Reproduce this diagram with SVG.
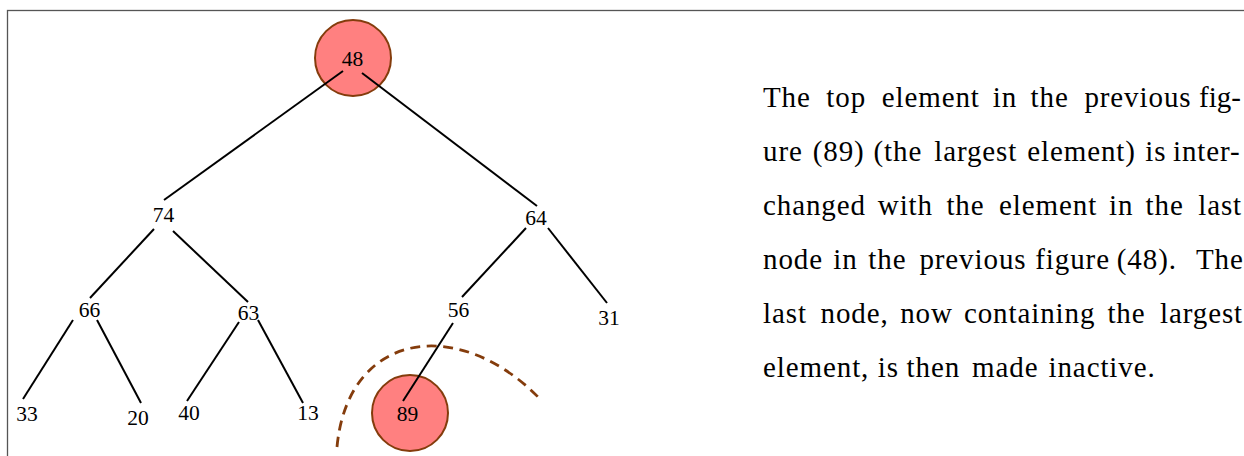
<svg xmlns="http://www.w3.org/2000/svg" width="1244" height="456" viewBox="0 0 1244 456">
<style>
.lbl{font-family:"Liberation Serif","Times New Roman",serif;font-size:21.5px;fill:#000;text-anchor:middle}
.hot{fill:#FF8080;stroke:#843C0C;stroke-width:2}
.edge{stroke:#000;stroke-width:2;fill:none;stroke-linecap:butt}
.cut{stroke:#843C0C;stroke-width:2.8;fill:none;stroke-dasharray:10 6.5}
.para{font-family:"Liberation Serif","Times New Roman",serif;font-size:29px;letter-spacing:0.9px;fill:#000}
</style>
<rect x="7.5" y="10.5" width="1300" height="500" fill="#fff" stroke="#555" stroke-width="1.3"/>
<g id="n48"><circle class="hot" cx="353" cy="58" r="38"/><text class="lbl" x="352.5" y="66">48</text></g>
<g id="n74"><text class="lbl" x="163.5" y="222">74</text></g>
<g id="n64"><text class="lbl" x="536" y="225">64</text></g>
<g id="n66"><text class="lbl" x="89.5" y="317">66</text></g>
<g id="n63"><text class="lbl" x="248.5" y="320">63</text></g>
<g id="n56"><text class="lbl" x="458.5" y="317">56</text></g>
<g id="n31"><text class="lbl" x="609" y="325">31</text></g>
<g id="n33"><text class="lbl" x="27" y="421">33</text></g>
<g id="n20"><text class="lbl" x="138" y="425">20</text></g>
<g id="n40"><text class="lbl" x="189" y="420">40</text></g>
<g id="n13"><text class="lbl" x="308" y="420">13</text></g>
<g id="n89"><circle class="hot" cx="410" cy="413" r="38"/><text class="lbl" x="407.5" y="421">89</text></g>
<g id="connectors">
<line class="edge" x1="343" y1="71" x2="164" y2="200"/>
<line class="edge" x1="362" y1="73" x2="537" y2="206"/>
<line class="edge" x1="154" y1="229" x2="90" y2="298"/>
<line class="edge" x1="173" y1="231" x2="248" y2="302"/>
<line class="edge" x1="526" y1="228" x2="462" y2="297"/>
<line class="edge" x1="548" y1="228" x2="607" y2="303"/>
<line class="edge" x1="73" y1="320" x2="23" y2="399"/>
<line class="edge" x1="97" y1="320" x2="141" y2="403"/>
<line class="edge" x1="239" y1="322" x2="187" y2="401"/>
<line class="edge" x1="258" y1="320" x2="303" y2="403"/>
<line class="edge" x1="453" y1="323" x2="403" y2="401"/>
</g>
<g id="cut-line"><path class="cut" d="M337,447 C348,330 460,315 541,400"/></g>
<g id="caption">
<text class="para" y="107"><tspan x="763">The</tspan><tspan x="826.3">top</tspan><tspan x="881.7">element</tspan><tspan x="992.8">in</tspan><tspan x="1030.6">the</tspan><tspan x="1084.4">previous</tspan><tspan x="1199" letter-spacing="0">fig-</tspan></text>
<text class="para" y="161"><tspan x="763">ure</tspan><tspan x="812.7">(89)</tspan><tspan x="873.5">(the</tspan><tspan x="934.2">largest</tspan><tspan x="1027.2">element)</tspan><tspan x="1145.3">is</tspan><tspan x="1173">inter-</tspan></text>
<text class="para" y="215"><tspan x="763">changed</tspan><tspan x="877.8">with</tspan><tspan x="946.4">the</tspan><tspan x="999">element</tspan><tspan x="1109">in</tspan><tspan x="1145.6">the</tspan><tspan x="1198.2">last</tspan></text>
<text class="para" y="269"><tspan x="763">node</tspan><tspan x="833.2">in</tspan><tspan x="868.3">the</tspan><tspan x="919.4">previous</tspan><tspan x="1035.3">figure</tspan><tspan x="1116.8">(48).</tspan><tspan x="1196">The</tspan></text>
<text class="para" y="323"><tspan x="763">last</tspan><tspan x="820.5">node,</tspan><tspan x="900.2">now</tspan><tspan x="963.9">containing</tspan><tspan x="1107.4">the</tspan><tspan x="1160">largest</tspan></text>
<text class="para" y="377"><tspan x="763">element,</tspan><tspan x="877.8">is</tspan><tspan x="906.6">then</tspan><tspan x="972">made</tspan><tspan x="1048.5">inactive.</tspan></text>
</g>
</svg>
